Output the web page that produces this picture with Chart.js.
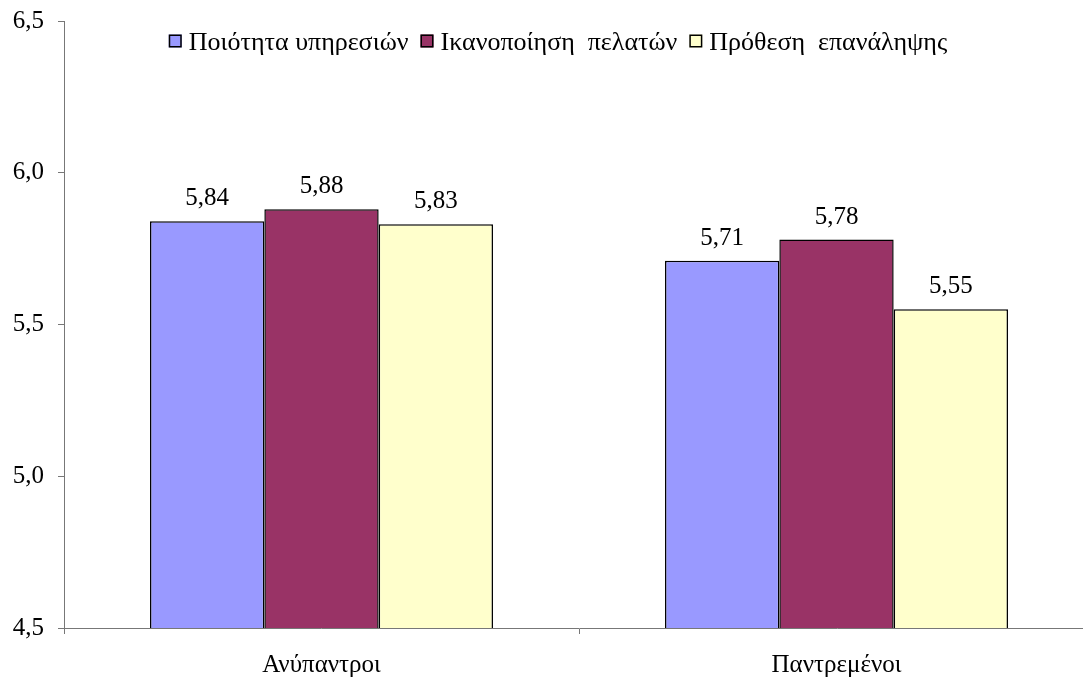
<!DOCTYPE html>
<html>
<head>
<meta charset="utf-8">
<script src="https://cdn.jsdelivr.net/npm/chart.js@4/dist/chart.umd.min.js"></script>
<style>
  body { margin: 0; background: #fff; overflow: hidden; width: 1083px; height: 677px; }
  canvas { display: block; }
</style>
</head>
<body>
<!-- canvas is a bit wider than the window: the original plot runs past the right edge -->
<canvas id="barChart" width="1094" height="677"></canvas>
<script>
// Data
const categories = ['Ανύπαντροι', 'Παντρεμένοι'];
const seriesNames = ['Ποιότητα υπηρεσιών', 'Ικανοποίηση  πελατών', 'Πρόθεση  επανάληψης'];
const serviceQuality = [5.84, 5.71];
const satisfaction = [5.88, 5.78];
const repeatIntent = [5.83, 5.55];
const seriesColors = ['#9999FF', '#993366', '#FFFFCC'];

const FONT = '"Liberation Serif", "Times New Roman", serif';
const FS = 25;

// comma as decimal separator
const fmt = (v, d) => v.toFixed(d).replace('.', ',');

// value labels above each bar
const valueLabels = {
  id: 'valueLabels',
  afterDatasetsDraw(chart) {
    const ctx = chart.ctx;
    ctx.save();
    ctx.font = FS + 'px ' + FONT;
    ctx.fillStyle = '#000';
    ctx.textAlign = 'center';
    ctx.textBaseline = 'alphabetic';
    chart.data.datasets.forEach((ds, i) => {
      chart.getDatasetMeta(i).data.forEach((bar, j) => {
        ctx.fillText(fmt(ds.data[j], 2), bar.x, bar.y - 16);
      });
    });
    ctx.restore();
  }
};

// legend drawn inside the plot area, like the original
const innerLegend = {
  id: 'innerLegend',
  afterDraw(chart) {
    const ctx = chart.ctx;
    ctx.save();
    ctx.font = '26px ' + FONT;
    const box = 13, gapBox = 7, gapItem = 12;
    const items = chart.data.datasets.map(ds => ({
      label: ds.label, color: ds.backgroundColor, w: ctx.measureText(ds.label).width
    }));
    const total = items.reduce((s, it) => s + box + gapBox + it.w, 0) + gapItem * (items.length - 1);
    let x = 558 - total / 2;
    const y = 41;
    ctx.textBaseline = 'middle';
    items.forEach(it => {
      ctx.fillStyle = it.color;
      ctx.fillRect(x, y - box / 2, box, box);
      ctx.strokeStyle = '#000';
      ctx.lineWidth = 1.5;
      ctx.strokeRect(x + 0.75, y - box / 2 + 0.75, box - 1.5, box - 1.5);
      x += box + gapBox;
      ctx.fillStyle = '#000';
      ctx.fillText(it.label, x, y + 2);
      x += it.w + gapItem;
    });
    ctx.restore();
  }
};

const ctx = document.getElementById('barChart').getContext('2d');
new Chart(ctx, {
  type: 'bar',
  data: {
    labels: categories,
    datasets: [serviceQuality, satisfaction, repeatIntent].map((d, i) => ({
      label: seriesNames[i],
      data: d,
      backgroundColor: seriesColors[i],
      borderColor: '#000',
      borderWidth: 1.5,
      borderSkipped: false,
      categoryPercentage: 0.666,
      barPercentage: 1
    }))
  },
  options: {
    responsive: false,
    animation: false,
    layout: { padding: { top: 21, right: 0, left: 0, bottom: 0 } },
    plugins: {
      legend: { display: false },
      tooltip: { enabled: false }
    },
    scales: {
      x: {
        grid: { drawOnChartArea: false, color: '#777', tickLength: 6, offset: true },
        border: { color: '#777', width: 1 },
        ticks: { color: '#000', font: { family: FONT, size: FS }, padding: 16 },
        afterFit: s => { s.height = 49; }
      },
      y: {
        min: 4.5,
        max: 6.5,
        grid: { drawOnChartArea: false, color: '#777', tickLength: 6 },
        border: { color: '#777', width: 1 },
        ticks: {
          stepSize: 0.5,
          color: '#000',
          font: { family: FONT, size: FS },
          padding: 14,
          callback: v => fmt(v, 1)
        },
        afterFit: s => { s.width = 64; s.paddingTop = 0; s.paddingBottom = 0; }
      }
    }
  },
  plugins: [valueLabels, innerLegend]
});
</script>
</body>
</html>
